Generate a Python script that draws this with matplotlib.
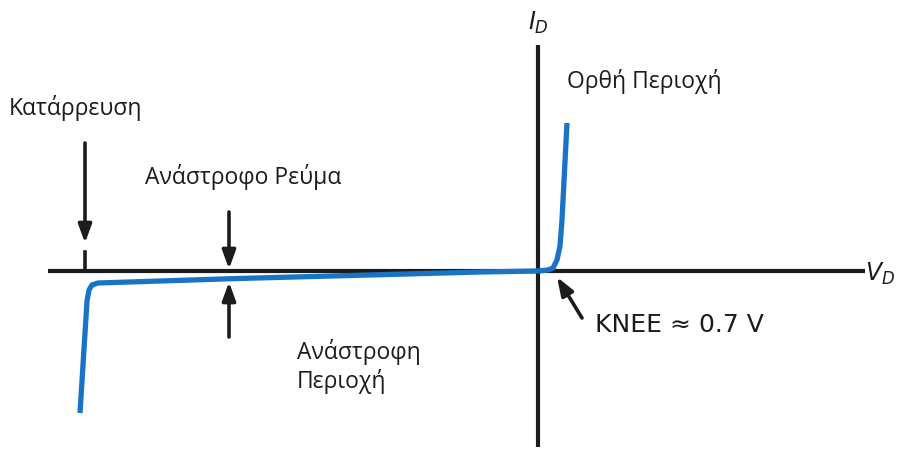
import matplotlib.pyplot as plt
import numpy as np

plt.rcParams['font.family'] = ['Open Sans', 'DejaVu Sans']

# Diode I-V characteristic in diagram units (origin at the axes crossing)
v_reverse = [-458, -451, -449, -446, -440, -300, -150, -58, 0]
i_reverse = [-142, -30, -19, -14, -12, -7.5, -3.5, -1, 0]
v_forward = [0, 10, 15, 19, 22, 24, 29]
i_forward = [0, 1, 3, 11, 25, 51, 148]

BLUE = '#1a74c6'
INK = '#1c1c1c'
FS = 16.5

fig = plt.figure(figsize=(9.03, 4.49), dpi=100)
ax = fig.add_axes([0, 0, 1, 1])
ax.set_xlim(-538, 365)
ax.set_ylim(-178, 271)
ax.axis('off')

# axes of the diagram
ax.plot([-490, 327], [0, 0], color=INK, lw=3.0, solid_capstyle='butt', zorder=2)
ax.plot([0, 0], [-176, 226], color=INK, lw=3.0, solid_capstyle='butt', zorder=2)
ax.text(0, 248, r'$I_D$', ha='center', va='center', fontsize=17, color=INK)
ax.text(342, -3, r'$V_D$', ha='center', va='center', fontsize=17, color=INK)

# characteristic curve
ax.plot(v_reverse, i_reverse, color=BLUE, lw=3.8, solid_joinstyle='round',
        solid_capstyle='butt', zorder=3)
ax.plot(v_forward, i_forward, color=BLUE, lw=3.8, solid_joinstyle='round',
        solid_capstyle='butt', zorder=3)

arrow = dict(arrowstyle='-|>,head_width=0.4,head_length=1.1', color=INK, lw=2.6,
             shrinkA=0, shrinkB=0)

# breakdown marker
ax.annotate('', xy=(-453, 28), xytext=(-453, 128), arrowprops=arrow)
ax.plot([-453, -453], [0, 19], color=INK, lw=2.6, zorder=2)
ax.text(-529, 163, 'Κατάρρευση', ha='left', va='center', fontsize=FS, color=INK)

# reverse current markers
ax.annotate('', xy=(-309, 2), xytext=(-309, 59), arrowprops=arrow)
ax.annotate('', xy=(-309, -11), xytext=(-309, -66), arrowprops=arrow)
ax.text(-295, 94, 'Ανάστροφο Ρεύμα', ha='center', va='center', fontsize=FS, color=INK)

ax.text(-241, -81, 'Ανάστροφη', ha='left', va='center', fontsize=FS, color=INK)
ax.text(-241, -110, 'Περιοχή', ha='left', va='center', fontsize=FS, color=INK)

ax.text(29, 189, 'Ορθή Περιοχή', ha='left', va='center', fontsize=FS, color=INK)

# knee voltage pointer
ax.annotate('', xy=(19, -6), xytext=(44, -47), arrowprops=arrow)
ax.text(57, -54, 'KNEE ≈ 0.7 V', ha='left', va='center', fontsize=18,
        color=INK, family='DejaVu Sans')

fig.savefig('out.png', dpi=100)
